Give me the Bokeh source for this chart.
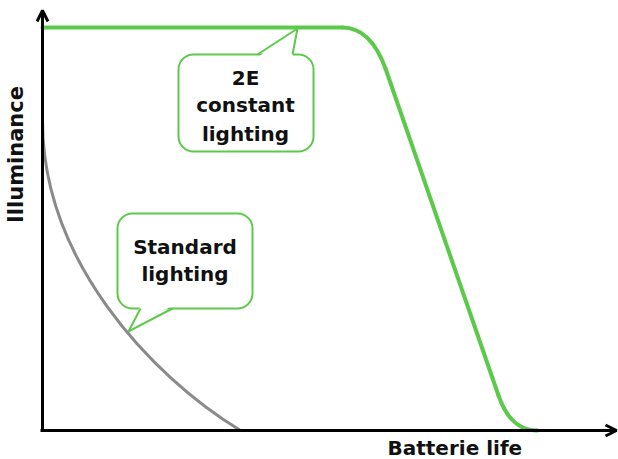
import math
from bokeh.plotting import figure
from bokeh.models import Range1d, Arrow, OpenHead
from bokeh.core.properties import value
from bokeh.embed import file_html
from bokeh.resources import INLINE

# ---------------- data (chart units: origin at the axes' crossing) ----------------
x_title = "Batterie life"
y_title = "Illuminance"

axis_x_end = 574          # end of the battery-life axis (arrow tip)
axis_y_end = 420          # end of the illuminance axis (arrow tip)

# "2E constant lighting": plateau, rounded shoulder, steep drop, rounded foot
const_pts_x = [0, 300, 343, 456, 495]
const_pts_y = [403, 403, 362, 35, 0]
const_ctrl_x = [328, 468]   # control points of the shoulder and foot curves
const_ctrl_y = [403, 0]

# "Standard lighting": decaying curve (cubic Bézier: start, ctrl1, ctrl2, end)
std_x = [0, 0, 108, 198]
std_y = [310, 170, 55, 0]

# callouts
callout_left = [136, 75]
callout_right = [271, 210]
callout_top = [376, 217]
callout_bottom = [279, 122]
pointer_base_a = [215, 98]
pointer_base_b = [250, 130]
pointer_base_y = [376, 122]
pointer_tip_x = [255, 86]
pointer_tip_y = [402, 99]
callout_text = [["2E", "constant", "lighting"], ["Standard", "lighting"]]
callout_text_x = [203, 142.5]
callout_text_y = [[353, 326, 297], [184, 157]]

GREEN = "#5cc94a"
GRAY = "#8a8a8a"
FONT = value("DejaVu Sans")

p = figure(width=618, height=459, x_range=Range1d(-42, 576), y_range=Range1d(-29, 430),
           toolbar_location=None, output_backend="svg", min_border=0,
           x_axis_location=None, y_axis_location=None)
p.outline_line_color = None
p.xgrid.visible = False
p.ygrid.visible = False
p.background_fill_color = "white"
p.border_fill_color = "white"

# callout boxes
p.quad(left=callout_left, right=callout_right, top=callout_top, bottom=callout_bottom,
       fill_color="white", line_color=GREEN, line_width=2, border_radius=15)
for i in range(2):
    sign = -1 if pointer_tip_y[i] > pointer_base_y[i] else 1
    by = pointer_base_y[i] + sign * 3
    p.patch([pointer_base_a[i], pointer_tip_x[i], pointer_base_b[i]],
            [by, pointer_tip_y[i], by], fill_color="white", line_color=None)
    p.line([pointer_base_a[i], pointer_tip_x[i], pointer_base_b[i]],
           [pointer_base_y[i], pointer_tip_y[i], pointer_base_y[i]],
           line_color=GREEN, line_width=2, line_join="miter")
    for j, t in enumerate(callout_text[i]):
        p.text(x=[callout_text_x[i]], y=[callout_text_y[i][j]], text=[t],
               text_font=FONT, text_font_style="bold", text_font_size="20px",
               text_align="center", text_baseline="alphabetic", text_color="#111111")

# standard lighting curve
p.bezier(x0=[std_x[0]], y0=[std_y[0]], cx0=[std_x[1]], cy0=[std_y[1]],
         cx1=[std_x[2]], cy1=[std_y[2]], x1=[std_x[3]], y1=[std_y[3]],
         line_color=GRAY, line_width=3)

# constant lighting curve
p.line(const_pts_x[0:2], const_pts_y[0:2], line_color=GREEN, line_width=4, line_cap="round")
p.quadratic(x0=[const_pts_x[1]], y0=[const_pts_y[1]], cx=[const_ctrl_x[0]], cy=[const_ctrl_y[0]],
            x1=[const_pts_x[2]], y1=[const_pts_y[2]], line_color=GREEN, line_width=4, line_cap="round")
p.line(const_pts_x[2:4], const_pts_y[2:4], line_color=GREEN, line_width=4, line_cap="round")
p.quadratic(x0=[const_pts_x[3]], y0=[const_pts_y[3]], cx=[const_ctrl_x[1]], cy=[const_ctrl_y[1]],
            x1=[const_pts_x[4]], y1=[const_pts_y[4]], line_color=GREEN, line_width=4, line_cap="round")

# axes with arrows
p.add_layout(Arrow(x_start=-2, y_start=0, x_end=axis_x_end, y_end=0, line_width=3, line_color="black",
                   end=OpenHead(size=11, line_width=3, line_color="black")))
p.add_layout(Arrow(x_start=0, y_start=-1, x_end=0, y_end=axis_y_end, line_width=3, line_color="black",
                   end=OpenHead(size=11, line_width=3, line_color="black")))

# axis titles
p.text(x=[345], y=[-17], text=[x_title], text_font=FONT, text_font_style="bold",
       text_font_size="20px", text_align="left", text_baseline="alphabetic", text_color="#111111")
p.text(x=[-27], y=[276], text=[y_title], angle=math.pi / 2, text_font=FONT, text_font_style="bold",
       text_font_size="21px", text_align="center", text_baseline="alphabetic", text_color="#111111")

open("out.html", "w").write(file_html(p, INLINE))
